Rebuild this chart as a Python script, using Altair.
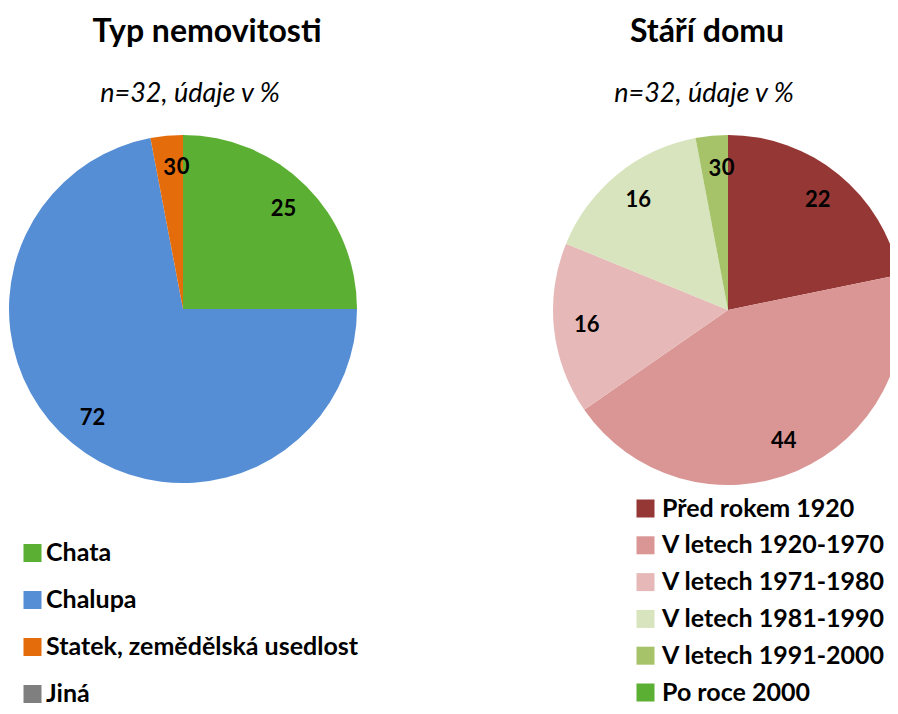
import altair as alt
import pandas as pd

FONT = "Lato"

titles = ["Typ nemovitosti", "Stáří domu"]
subtitle = "n=32, údaje v %"

typ_categories = ["Chata", "Chalupa", "Statek, zemědělská usedlost", "Jiná"]
typ_values = [25, 72, 3, 0]
typ_colors = ["#5BAF33", "#558ED5", "#E46C0A", "#7F7F7F"]

stari_categories = ["Před rokem 1920", "V letech 1920-1970", "V letech 1971-1980",
                    "V letech 1981-1990", "V letech 1991-2000", "Po roce 2000"]
stari_values = [22, 44, 16, 16, 3, 0]
stari_colors = ["#953735", "#D99694", "#E6B9B8", "#D7E4BD", "#A6C36A", "#5BAF33"]

LEG_FS = 25


def pie(cats, vals, colors, cx, cy, r, lx, ly, rowpad, gap):
    df = pd.DataFrame({"cat": cats, "val": vals, "idx": list(range(len(cats))),
                       "lbl": [str(v) for v in vals]})
    base = alt.Chart(df).encode(
        theta=alt.Theta("val:Q", stack=True),
        order=alt.Order("idx:Q"),
        x=alt.value(cx),
        y=alt.value(cy),
    )
    arc = base.mark_arc(radius=r).encode(
        color=alt.Color(
            "cat:N",
            sort=cats,
            scale=alt.Scale(domain=cats, range=colors),
            legend=alt.Legend(
                orient="none", legendX=lx, legendY=ly, title=None,
                symbolType="square", symbolSize=324, symbolStrokeWidth=0,
                labelFont=FONT, labelFontSize=LEG_FS, labelFontWeight="bold",
                labelColor="black", rowPadding=rowpad, labelOffset=gap,
                padding=0, labelLimit=600,
            ),
        )
    )
    text = base.mark_text(radius=142, font=FONT, fontSize=22, fontWeight="bold",
                          color="black", align="center", baseline="middle").encode(
        text="lbl:N", detail="cat:N"
    )
    return [arc, text]


def label(t, x, y, size, weight="normal", style="normal"):
    return alt.Chart(pd.DataFrame({"t": [t]})).mark_text(
        font=FONT, fontSize=size, fontWeight=weight, fontStyle=style,
        color="black", align="center", baseline="alphabetic"
    ).encode(text="t:N", x=alt.value(x), y=alt.value(y))


layers = []
layers += pie(typ_categories, typ_values, typ_colors, 175, 301, 174, 12, 532.5, 21, 1)
layers += pie(stari_categories, stari_values, stari_colors, 720, 302, 175, 625, 488, 10.8, 4)
layers += [
    label(titles[0], 199, 34, 32, "bold"),
    label(subtitle, 182, 94, 27, style="italic"),
    label(titles[1], 699, 34, 32, "bold"),
    label(subtitle, 696, 94, 27, style="italic"),
]

chart = alt.layer(*layers).resolve_scale(
    theta="independent", color="independent"
).properties(
    width=882, height=698, autosize="none", padding=0
).configure_view(strokeWidth=0)

chart.save("out.html", embed_options={"renderer": "svg", "actions": False})
